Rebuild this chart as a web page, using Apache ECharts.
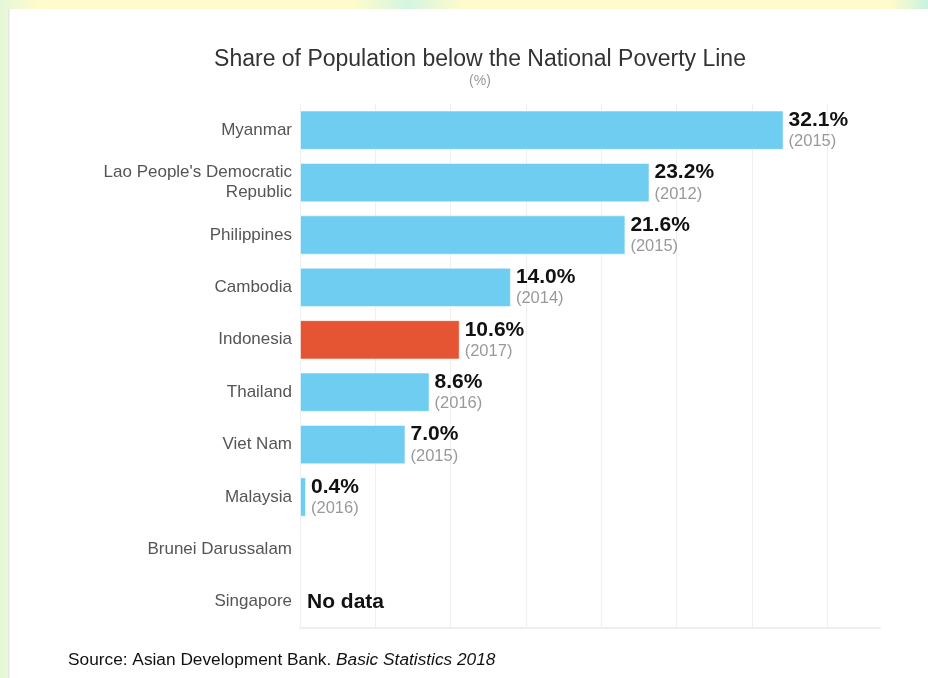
<!DOCTYPE html>
<html>
<head>
<meta charset="utf-8">
<script src="https://cdn.jsdelivr.net/npm/echarts@6/dist/echarts.min.js"></script>
<style>
html,body{margin:0;padding:0;background:#fffbd0;}
#chart{width:928px;height:678px;}
</style>
</head>
<body>
<div id="chart"></div>
<script>
const categories = ["Myanmar", "Lao People's Democratic\nRepublic", "Philippines", "Cambodia", "Indonesia", "Thailand", "Viet Nam", "Malaysia", "Brunei Darussalam", "Singapore"];
const values = [32.1, 23.2, 21.6, 14.0, 10.6, 8.6, 7.0, 0.4, null, null];
const years = ["2015", "2012", "2015", "2014", "2017", "2016", "2015", "2016", "", ""];
const highlight = "Indonesia";
const noDataCategory = "Singapore";
const xTicks = [0, 5, 10, 15, 20, 25, 30, 35];

const chart = echarts.init(document.getElementById('chart'), null, {renderer: 'canvas'});
const font = '"Liberation Sans", Arial, sans-serif';

const barData = values.map((v, i) => ({
  value: v === null ? '-' : v,
  itemStyle: { color: categories[i] === highlight ? '#e55433' : '#6fcdf1' },
  label: { formatter: '{v|' + (v === null ? '' : v.toFixed(1) + '%') + '}\n{y|(' + years[i] + ')}' }
}));

chart.setOption({
  backgroundColor: 'transparent',
  animation: false,
  graphic: [
    { type: 'rect', z: -10, shape: { x: 0, y: 0, width: 928, height: 678 },
      style: { fill: new echarts.graphic.LinearGradient(0, 0, 1, 0, [
        { offset: 0, color: '#e4f7d8' }, { offset: 0.04, color: '#fffbcc' },
        { offset: 0.38, color: '#fffbcc' }, { offset: 0.44, color: '#d4f5e0' },
        { offset: 0.50, color: '#fffbcc' }, { offset: 0.96, color: '#fffbcc' },
        { offset: 1, color: '#c8f2e0' }]) } },
    { type: 'rect', z: -9, shape: { x: 8, y: 9, width: 920, height: 669 },
      style: { fill: '#ffffff' } },
    { type: 'rect', z: -8, shape: { x: 8, y: 9, width: 1.5, height: 669 },
      style: { fill: '#e6e6e6' } },
    { type: 'text', left: 68, top: 652,
      style: { text: '{n|Source: Asian Development Bank. }{i|Basic Statistics 2018}',
        rich: { n: { fontFamily: font, fontSize: 17.3, fill: '#111' },
                i: { fontFamily: font, fontSize: 17.3, fontStyle: 'italic', fill: '#111' } } } }
  ],
  title: {
    text: 'Share of Population below the National Poverty Line',
    subtext: '(%)',
    left: 475, textAlign: 'center', top: 43,
    textStyle: { fontFamily: font, fontSize: 23, fontWeight: 'normal', color: '#333' },
    subtextStyle: { fontFamily: font, fontSize: 14, color: '#999' },
    itemGap: 3
  },
  grid: { left: 300, top: 104, width: 580, height: 524, containLabel: false },
  xAxis: {
    type: 'value', min: 0, max: 38.5, interval: 5,
    axisLabel: { show: false }, axisTick: { show: false },
    axisLine: { show: true, lineStyle: { color: '#eeeeee', width: 2 } },
    splitLine: { show: true, showMaxLine: false, lineStyle: { color: '#efefef', width: 1 } }
  },
  yAxis: {
    type: 'category', data: categories, inverse: true,
    axisLine: { show: false }, axisTick: { show: false },
    axisLabel: { fontFamily: font, fontSize: 17, color: '#555', margin: 8, lineHeight: 20, align: 'right' }
  },
  series: [{
    type: 'bar', data: barData, barCategoryGap: '25%',
    itemStyle: { borderColor: 'rgba(255,255,255,0.5)', borderWidth: 1 },
    label: {
      show: true, position: 'right', distance: 5,
      rich: {
        v: { fontFamily: font, fontSize: 21, fontWeight: 'bold', color: '#111', lineHeight: 23 },
        y: { fontFamily: font, fontSize: 16.5, color: '#999', lineHeight: 20 }
      }
    },
    markPoint: {
      symbol: 'circle', symbolSize: 0,
      data: [{ coord: [0, noDataCategory] }],
      label: { show: true, position: 'right', distance: 7, formatter: 'No data',
        fontFamily: font, fontSize: 21, fontWeight: 'bold', color: '#111' }
    }
  }]
});
</script>
</body>
</html>
